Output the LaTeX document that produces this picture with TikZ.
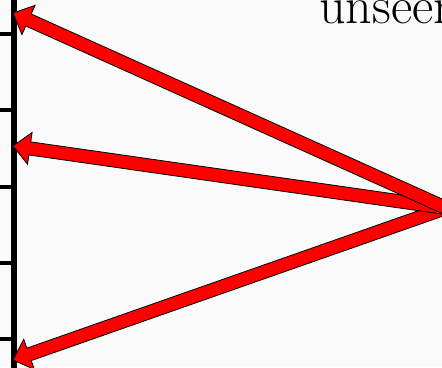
\documentclass[tikz,border=0pt]{standalone}
\usetikzlibrary{calc}
\definecolor{bgcol}{RGB}{250,250,250}
\definecolor{arrowred}{RGB}{255,0,0}
\tikzset{
  fatarrowstyle/.style={draw=black, fill=arrowred, line width=0.8pt, line join=miter},
  axisline/.style={draw=black, line width=5.5pt},
  tickline/.style={draw=black, line width=4pt},
  labeltext/.style={inner sep=0pt, font=\fontsize{52}{52}\selectfont}
}
\newcommand\fatarrow[3]{%
  \begin{scope}[shift={(#1)}, rotate=#2]
    \draw[fatarrowstyle] (0,0) -- (17,16) -- (17,6.6) -- (#3,6.6) -- (#3,-6.6) -- (17,-6.6) -- (17,-16) -- cycle;
  \end{scope}}
\begin{document}
\begin{tikzpicture}[x=1pt,y=1pt]
  \useasboundingbox (0,0) rectangle (442,367);
  \fill[bgcol] (0,0) rectangle (442,367);
  \clip (0,0) rectangle (442,367);
  % axis
  \coordinate (axtop) at (14,370);
  \coordinate (axbot) at (14,-3);
  \draw[axisline] (axbot) -- (axtop);
  \foreach \i/\y in {1/333,2/257,3/180,4/104,5/28}{
    \coordinate (tickL\i) at (0,\y);
    \coordinate (tickR\i) at (14,\y);
    \draw[tickline] (tickL\i) -- (tickR\i);
  }
  % label
  \node[labeltext, anchor=base west] (lbl) at (319,343) {unseen};
  % arrows
  \coordinate (src) at (446,159);
  \coordinate (tip1) at (13,354);
  \coordinate (tip2) at (13,221);
  \coordinate (tip3) at (13,7);
  \fatarrow{tip3}{19.34}{458.9}
  \fatarrow{tip2}{-8.15}{437.4}
  \fatarrow{tip1}{-24.24}{474.9}
\end{tikzpicture}
\end{document}
